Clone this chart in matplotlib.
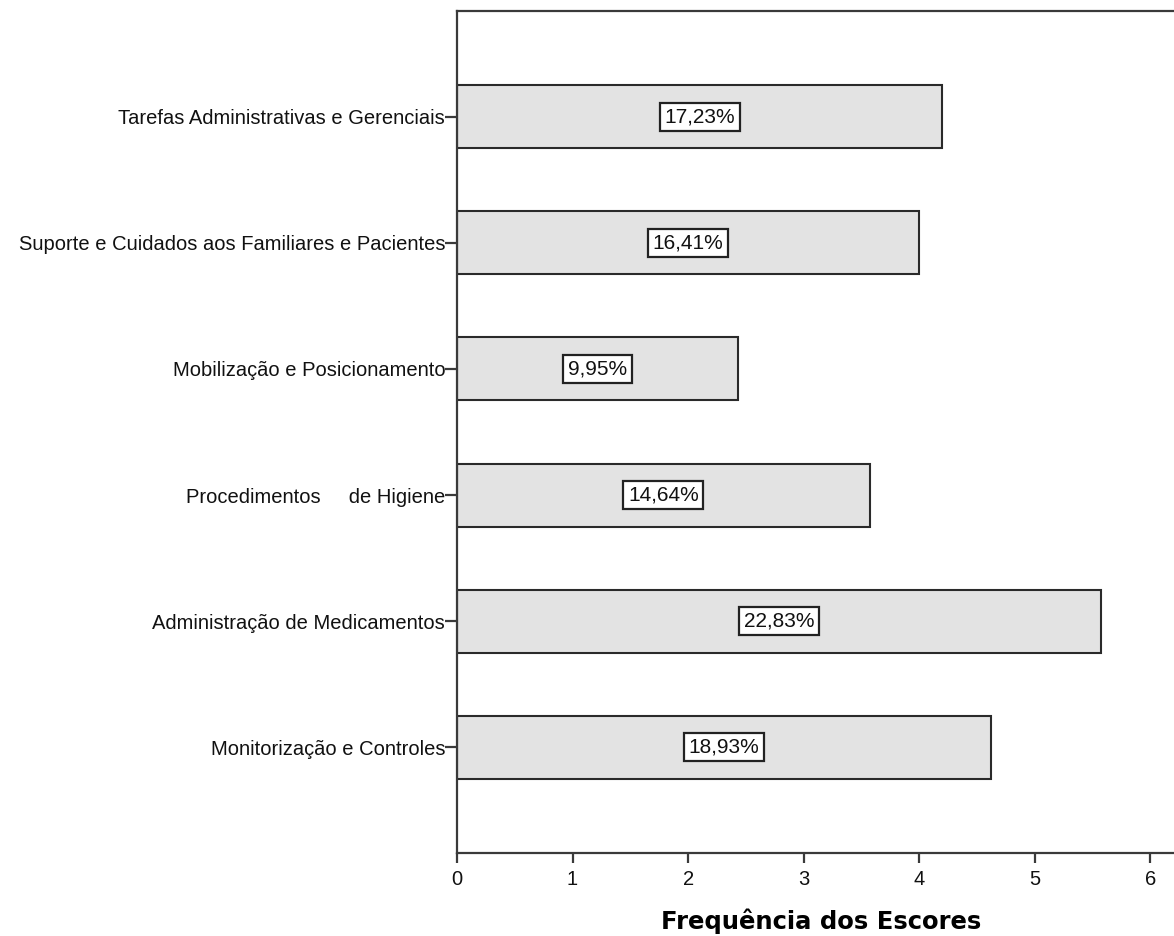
import matplotlib
matplotlib.use("Agg")
import matplotlib.pyplot as plt

categories = [
    "Monitorização e Controles",
    "Administração de Medicamentos",
    "Procedimentos     de Higiene",
    "Mobilização e Posicionamento",
    "Suporte e Cuidados aos Familiares e Pacientes",
    "Tarefas Administrativas e Gerenciais",
]
scores = [4.62, 5.57, 3.57, 2.43, 4.00, 4.20]
percent_labels = ["18,93%", "22,83%", "14,64%", "9,95%", "16,41%", "17,23%"]
x_ticks = [0, 1, 2, 3, 4, 5, 6]

plt.rcParams["font.family"] = ["Liberation Sans", "DejaVu Sans"]

W, H = 1174, 936
fig = plt.figure(figsize=(W / 100, H / 100), dpi=100)
left, right, top, bottom = 457, 1185, 11, 853
ax = fig.add_axes([left / W, 1 - bottom / H, (right - left) / W, (bottom - top) / H])

ypos = list(range(len(categories)))
ax.barh(ypos, scores, height=0.5, color="#e3e3e3", edgecolor="#2a2a2a",
        linewidth=1.5, zorder=2)

for y, v, lab in zip(ypos, scores, percent_labels):
    ax.text(v / 2, y, lab, ha="center", va="center", fontsize=15, color="#111111",
            bbox=dict(boxstyle="square,pad=0.22", facecolor="white",
                      edgecolor="#222222", linewidth=1.6), zorder=3)

ax.set_xlim(0, 6.3)
ax.set_ylim(-0.84, 5.84)
ax.set_yticks(ypos)
ax.set_yticklabels(categories, fontsize=14.5, color="#111111")
ax.set_xticks(x_ticks)
ax.set_xticklabels([str(t) for t in x_ticks], fontsize=14.5, color="#111111")

for side in ("left", "top", "bottom"):
    ax.spines[side].set_color("#3a3a3a")
    ax.spines[side].set_linewidth(1.6)
ax.spines["right"].set_visible(False)

ax.tick_params(axis="y", length=8.5, width=1.6, color="#3a3a3a", pad=0)
ax.tick_params(axis="x", length=7, width=1.6, color="#3a3a3a", pad=5)

ax.set_xlabel("Frequência dos Escores", fontsize=17.5, fontweight="bold",
              family=["DejaVu Sans"], labelpad=14)

fig.savefig("out.png", dpi=100)
